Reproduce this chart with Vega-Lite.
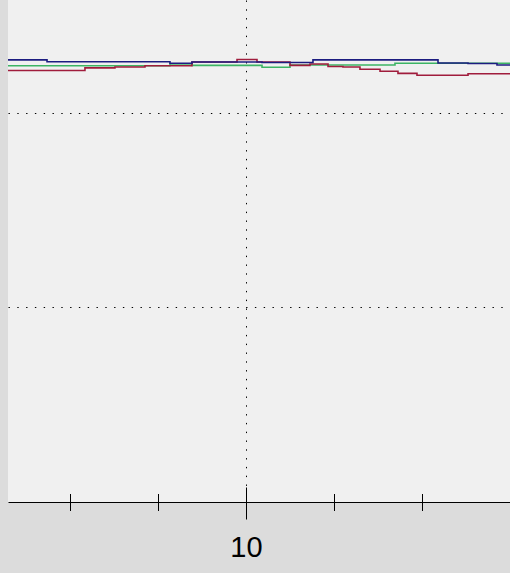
{
  "$schema": "https://vega.github.io/schema/vega-lite/v6.json",
  "width": 502,
  "height": 502,
  "autosize": {"type": "none"},
  "padding": {"left": 8, "top": 0, "right": 0, "bottom": 71},
  "background": "#dcdcdc",
  "config": {
    "view": {"fill": "#f0f0f0", "stroke": null},
    "axis": {"labelFont": "Liberation Sans", "titleFont": "Liberation Sans"}
  },
  "data": {
    "values": [
      {"s": "green", "x": 7.2955, "y": 22.40},
      {"s": "green", "x": 9.136, "y": 22.49},
      {"s": "green", "x": 9.386, "y": 22.42},
      {"s": "green", "x": 10.182, "y": 22.32},
      {"s": "green", "x": 10.5, "y": 22.44},
      {"s": "green", "x": 11.693, "y": 22.53},
      {"s": "green", "x": 13.0, "y": 22.53},
      {"s": "red", "x": 7.2955, "y": 22.16},
      {"s": "red", "x": 8.170, "y": 22.29},
      {"s": "red", "x": 8.511, "y": 22.34},
      {"s": "red", "x": 8.852, "y": 22.40},
      {"s": "red", "x": 9.386, "y": 22.59},
      {"s": "red", "x": 9.898, "y": 22.72},
      {"s": "red", "x": 10.125, "y": 22.59},
      {"s": "red", "x": 10.5, "y": 22.42},
      {"s": "red", "x": 10.727, "y": 22.49},
      {"s": "red", "x": 10.932, "y": 22.36},
      {"s": "red", "x": 11.102, "y": 22.34},
      {"s": "red", "x": 11.295, "y": 22.22},
      {"s": "red", "x": 11.523, "y": 22.12},
      {"s": "red", "x": 11.727, "y": 22.01},
      {"s": "red", "x": 11.943, "y": 21.91},
      {"s": "red", "x": 12.523, "y": 21.99},
      {"s": "red", "x": 13.0, "y": 21.99},
      {"s": "blue", "x": 7.2955, "y": 22.70},
      {"s": "blue", "x": 7.739, "y": 22.61},
      {"s": "blue", "x": 9.136, "y": 22.53},
      {"s": "blue", "x": 9.386, "y": 22.59},
      {"s": "blue", "x": 10.182, "y": 22.57},
      {"s": "blue", "x": 10.761, "y": 22.70},
      {"s": "blue", "x": 12.182, "y": 22.54},
      {"s": "blue", "x": 12.523, "y": 22.52},
      {"s": "blue", "x": 12.852, "y": 22.44},
      {"s": "blue", "x": 13.0, "y": 22.44}
    ]
  },
  "resolve": {"axis": {"x": "independent", "y": "independent"}},
  "layer": [
    {
      "transform": [{"filter": "datum.s === 'green'"}],
      "mark": {"type": "line", "interpolate": "step-after", "strokeWidth": 1.6, "clip": true},
      "encoding": {
        "x": {
          "field": "x", "type": "quantitative",
          "scale": {"domain": [7.2955, 13], "nice": false, "zero": false},
          "axis": {
            "orient": "bottom", "title": null, "values": [10],
            "labels": false, "ticks": false,
            "domain": true, "domainColor": "#000000", "domainWidth": 1,
            "grid": true, "gridColor": "#000000", "gridDash": [1.4, 7.4], "gridWidth": 1, "gridOpacity": 1
          }
        },
        "y": {
          "field": "y", "type": "quantitative",
          "scale": {"domain": [0, 25.777], "nice": false, "zero": false},
          "axis": {
            "orient": "left", "title": null, "values": [10, 20],
            "labels": false, "ticks": false, "domain": false,
            "grid": true, "gridColor": "#000000", "gridDash": [1.4, 7.4], "gridWidth": 1, "gridOpacity": 1
          }
        },
        "color": {
          "field": "s", "type": "nominal", "legend": null,
          "scale": {"domain": ["blue", "red", "green"], "range": ["#1c1c80", "#a01c3c", "#3cb464"]}
        }
      }
    },
    {
      "transform": [{"filter": "datum.s === 'red'"}],
      "mark": {"type": "line", "interpolate": "step-after", "strokeWidth": 1.6, "clip": true},
      "encoding": {
        "x": {
          "field": "x", "type": "quantitative",
          "axis": {
            "orient": "bottom", "title": null, "values": [8, 9, 11, 12],
            "labels": false, "domain": false, "grid": false,
            "ticks": true, "tickColor": "#000000", "tickWidth": 1, "tickSize": 17, "offset": -8.5
          }
        },
        "y": {"field": "y", "type": "quantitative", "axis": null},
        "color": {"field": "s", "type": "nominal", "legend": null}
      }
    },
    {
      "transform": [{"filter": "datum.s === 'blue'"}],
      "mark": {"type": "line", "interpolate": "step-after", "strokeWidth": 1.6, "clip": true},
      "encoding": {
        "x": {
          "field": "x", "type": "quantitative",
          "axis": {
            "orient": "bottom", "title": null, "values": [10], "format": "d",
            "domain": false, "grid": false,
            "ticks": true, "tickColor": "#000000", "tickWidth": 1, "tickSize": 32, "offset": -15,
            "labels": true, "labelFontSize": 29, "labelColor": "#000000", "labelPadding": 14
          }
        },
        "y": {"field": "y", "type": "quantitative", "axis": null},
        "color": {"field": "s", "type": "nominal", "legend": null}
      }
    }
  ]
}
